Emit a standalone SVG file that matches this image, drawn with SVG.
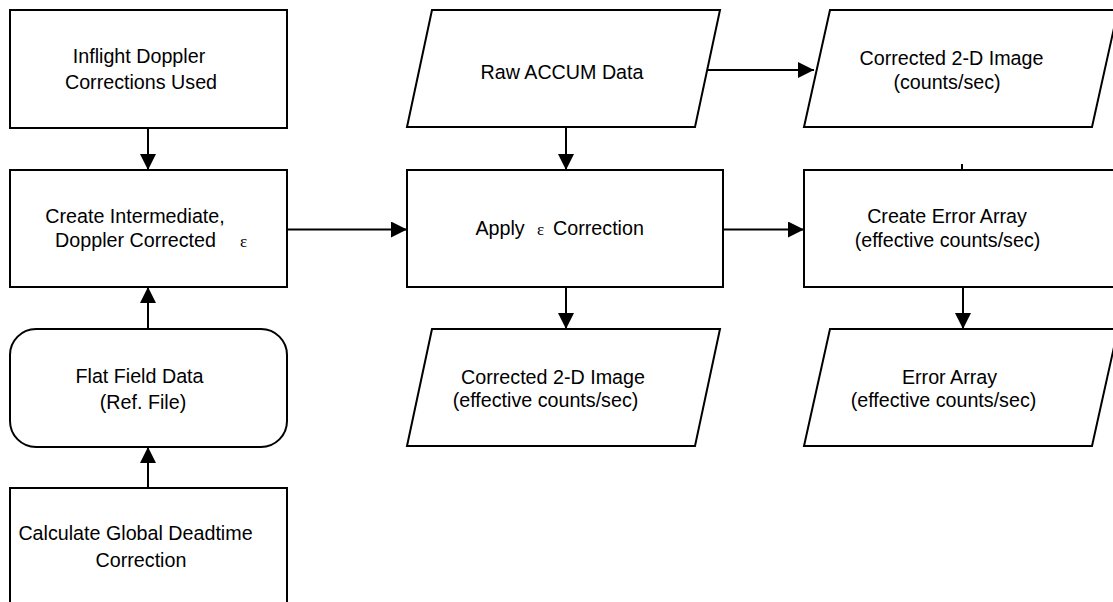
<svg xmlns="http://www.w3.org/2000/svg" width="1113" height="602" viewBox="0 0 1113 602">
  <defs>
    <marker id="arrow" viewBox="0 0 16 16" refX="16" refY="8" markerWidth="16" markerHeight="16" markerUnits="userSpaceOnUse" orient="auto">
      <path d="M0,0 L16,8 L0,16 Z" fill="#000"/>
    </marker>
    <style>
      .shape { fill: #fff; stroke: #000; stroke-width: 2; }
      .lbl { font-family: "Liberation Sans", Arial, Helvetica, sans-serif; font-size: 19.7px; fill: #000; text-anchor: middle; }
      .sym { font-family: "Liberation Serif", "Times New Roman", serif; font-size: 17px; fill: #000; }
      .conn { fill: none; stroke: #000; stroke-width: 2; }
    </style>
  </defs>
  <rect width="1113" height="602" fill="#fff"/>

  <!-- process chain on the left -->
  <g id="inflight-doppler">
    <rect class="shape" x="10" y="10" width="277" height="118"/>
    <text class="lbl" x="139" y="63">Inflight Doppler</text>
    <text class="lbl" x="141" y="89">Corrections Used</text>
  </g>
  <g id="create-intermediate">
    <rect class="shape" x="10" y="170" width="277" height="117"/>
    <text class="lbl" x="135" y="223">Create Intermediate,</text>
    <text class="lbl" x="135.5" y="247">Doppler Corrected</text>
    <text class="sym" x="240" y="247">ε</text>
  </g>
  <g id="flat-field">
    <rect class="shape" x="10" y="329" width="277" height="118" rx="26" ry="26"/>
    <text class="lbl" x="139.5" y="383">Flat Field Data</text>
    <text class="lbl" x="143" y="409">(Ref. File)</text>
  </g>
  <g id="global-deadtime">
    <rect class="shape" x="10" y="488" width="277" height="130"/>
    <text class="lbl" x="135.5" y="540">Calculate Global Deadtime</text>
    <text class="lbl" x="141" y="567">Correction</text>
  </g>

  <!-- centre column -->
  <g id="raw-accum">
    <polygon class="shape" points="432,10 720,10 695,127 407,127"/>
    <text class="lbl" x="562" y="79">Raw ACCUM Data</text>
  </g>
  <g id="apply-correction">
    <rect class="shape" x="407" y="170" width="316" height="117"/>
    <text class="lbl" x="500" y="235">Apply</text>
    <text class="sym" x="537" y="235">ε</text>
    <text class="lbl" x="598.5" y="235">Correction</text>
  </g>
  <g id="corrected-image-effective">
    <polygon class="shape" points="432,329 720,329 695,446 407,446"/>
    <text class="lbl" x="553" y="384">Corrected 2-D Image</text>
    <text class="lbl" x="545.5" y="407">(effective counts/sec)</text>
  </g>

  <!-- right column -->
  <g id="corrected-image-counts">
    <polygon class="shape" points="830,10 1118,10 1092,127 804,127"/>
    <text class="lbl" x="951.5" y="65">Corrected 2-D Image</text>
    <text class="lbl" x="947" y="89">(counts/sec)</text>
  </g>
  <g id="create-error-array">
    <rect class="shape" x="804" y="170" width="320" height="117"/>
    <text class="lbl" x="947" y="223">Create Error Array</text>
    <text class="lbl" x="947.5" y="247">(effective counts/sec)</text>
  </g>
  <g id="error-array">
    <polygon class="shape" points="830,329 1118,329 1092,446 804,446"/>
    <text class="lbl" x="949.5" y="384">Error Array</text>
    <text class="lbl" x="943.5" y="407">(effective counts/sec)</text>
  </g>

  <!-- connectors -->
  <g id="connectors">
    <line class="conn" x1="148" y1="128" x2="148" y2="170" marker-end="url(#arrow)"/>
    <line class="conn" x1="148" y1="329" x2="148" y2="287" marker-end="url(#arrow)"/>
    <line class="conn" x1="148" y1="488" x2="148" y2="447" marker-end="url(#arrow)"/>
    <line class="conn" x1="287" y1="229.5" x2="407" y2="229.5" marker-end="url(#arrow)"/>
    <line class="conn" x1="707" y1="70" x2="814" y2="70" marker-end="url(#arrow)"/>
    <line class="conn" x1="566" y1="127" x2="566" y2="170" marker-end="url(#arrow)"/>
    <line class="conn" x1="723" y1="229.5" x2="804" y2="229.5" marker-end="url(#arrow)"/>
    <line class="conn" x1="566" y1="287" x2="566" y2="329" marker-end="url(#arrow)"/>
    <line class="conn" x1="963" y1="287" x2="963" y2="329" marker-end="url(#arrow)"/>
    <line class="conn" x1="962" y1="164" x2="962" y2="170"/>
  </g>
</svg>
